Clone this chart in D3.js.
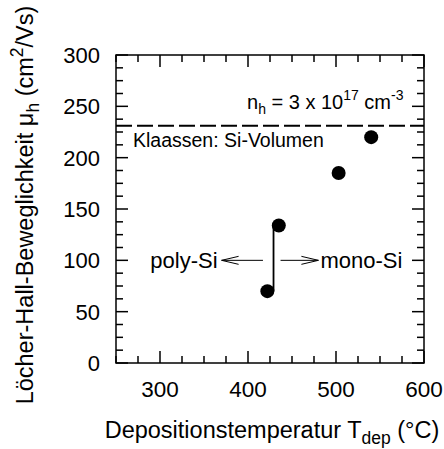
<!DOCTYPE html>
<html>
<head>
<meta charset="utf-8">
<script src="https://cdn.jsdelivr.net/npm/d3@7"></script>
<style>
  html, body { margin: 0; padding: 0; background: #fff; }
  text { font-family: "Liberation Sans", Arial, sans-serif; fill: #000; }
</style>
</head>
<body>
<div id="chart"></div>
<script>
// Hole mobility vs. deposition temperature
const depTemps = [422, 435, 503, 540];          // °C
const holeMobility = [70, 134, 185, 220];        // cm²/Vs
const bulkMobility = 231;                        // Klaassen Si-Volumen reference
const xTicks = [300, 400, 500, 600];
const yTicks = [0, 50, 100, 150, 200, 250, 300];
const jumpX = 429;                               // poly -> mono transition marker
const polyArrow = [417, 370];                    // x from, x to at y = 100
const monoArrow = [437, 480];
const arrowY = 100;

const width = 444, height = 449;
const m = { top: 55, right: 20, bottom: 86, left: 116 };
const innerW = width - m.left - m.right;
const innerH = height - m.top - m.bottom;

const svg = d3.select('#chart').append('svg').attr('width', width).attr('height', height);
const g = svg.append('g').attr('transform', `translate(${m.left},${m.top})`);

const x = d3.scaleLinear().domain([250, 600]).range([0, innerW]);
const y = d3.scaleLinear().domain([0, 300]).range([innerH, 0]);

// Frame ticks on all four sides, pointing inward
const xMinor = d3.range(250, 601, 25);
const yMinor = d3.range(0, 301, 12.5);
const majLen = 12, minLen = 7;
const isMajX = v => v % 100 === 0;
const isMajY = v => v % 50 === 0;

const ticks = g.append('g').attr('stroke', '#000').attr('stroke-width', 1.5);
xMinor.forEach(v => {
  const L = isMajX(v) ? majLen : minLen;
  ticks.append('line').attr('x1', x(v)).attr('x2', x(v)).attr('y1', innerH).attr('y2', innerH - L);
  ticks.append('line').attr('x1', x(v)).attr('x2', x(v)).attr('y1', 0).attr('y2', L);
});
yMinor.forEach(v => {
  const L = isMajY(v) ? majLen : minLen;
  ticks.append('line').attr('x1', 0).attr('x2', L).attr('y1', y(v)).attr('y2', y(v));
  ticks.append('line').attr('x1', innerW).attr('x2', innerW - L).attr('y1', y(v)).attr('y2', y(v));
});

g.append('rect').attr('width', innerW).attr('height', innerH)
  .attr('fill', 'none').attr('stroke', '#000').attr('stroke-width', 1.5);

// Tick labels
g.append('g').selectAll('text').data(xTicks).enter().append('text')
  .attr('x', d => x(d)).attr('y', innerH + 34)
  .attr('text-anchor', 'middle').style('font-size', '22.5px').text(d => d);

g.append('g').selectAll('text').data(yTicks).enter().append('text')
  .attr('x', -16).attr('y', d => y(d)).attr('dy', '0.36em')
  .attr('text-anchor', 'end').style('font-size', '22px').text(d => d);

// Reference line
g.append('line')
  .attr('x1', 0).attr('x2', innerW).attr('y1', y(bulkMobility)).attr('y2', y(bulkMobility))
  .attr('stroke', '#000').attr('stroke-width', 2).attr('stroke-dasharray', '16,5');

g.append('text').attr('x', 17).attr('y', y(bulkMobility) + 21)
  .style('font-size', '19.5px').text('Klaassen: Si-Volumen');

const nh = g.append('text').attr('x', 131).attr('y', y(bulkMobility) - 17).style('font-size', '20px');
nh.append('tspan').text('n');
nh.append('tspan').attr('dy', 5).style('font-size', '14px').text('h');
nh.append('tspan').attr('dy', -5).text(' = 3 x 10');
nh.append('tspan').attr('dy', -9).style('font-size', '14px').text('17');
nh.append('tspan').attr('dy', 9).text(' cm');
nh.append('tspan').attr('dy', -9).style('font-size', '14px').text('-3');

// Transition bar and arrows
g.append('line')
  .attr('x1', x(jumpX)).attr('x2', x(jumpX)).attr('y1', y(holeMobility[0])).attr('y2', y(holeMobility[1]))
  .attr('stroke', '#000').attr('stroke-width', 1.8);

function arrow(from, to) {
  const x0 = x(from), x1 = x(to), yy = y(arrowY);
  const dir = Math.sign(x1 - x0);
  g.append('line').attr('x1', x0).attr('x2', x1).attr('y1', yy).attr('y2', yy)
    .attr('stroke', '#000').attr('stroke-width', 1);
  g.append('path')
    .attr('d', `M${x1 - dir * 17},${yy - 4}L${x1},${yy}L${x1 - dir * 17},${yy + 4}`)
    .attr('fill', 'none').attr('stroke', '#000').attr('stroke-width', 1);
}
arrow(polyArrow[0], polyArrow[1]);
arrow(monoArrow[0], monoArrow[1]);

g.append('text').attr('x', x(polyArrow[1]) - 4).attr('y', y(arrowY)).attr('dy', '0.36em')
  .attr('text-anchor', 'end').style('font-size', '22px').text('poly-Si');
g.append('text').attr('x', x(monoArrow[1]) + 2).attr('y', y(arrowY)).attr('dy', '0.36em')
  .style('font-size', '22px').text('mono-Si');

// Data points
g.selectAll('circle.pt').data(depTemps).enter().append('circle')
  .attr('class', 'pt')
  .attr('cx', d => x(d)).attr('cy', (d, i) => y(holeMobility[i]))
  .attr('r', 7).attr('fill', '#000');

// Axis titles
const xl = svg.append('text').attr('x', 272).attr('y', 438)
  .attr('text-anchor', 'middle').style('font-size', '23.5px');
xl.append('tspan').text('Depositionstemperatur T');
xl.append('tspan').attr('dy', 6).style('font-size', '17.5px').text('dep');
xl.append('tspan').attr('dy', -6).text(' (°C)');

const yl = svg.append('text')
  .attr('transform', `translate(33,${m.top + innerH / 2 - 4}) rotate(-90)`)
  .attr('text-anchor', 'middle').style('font-size', '23.5px');
yl.append('tspan').text('Löcher-Hall-Beweglichkeit μ');
yl.append('tspan').attr('dy', 6).style('font-size', '17.5px').text('h');
yl.append('tspan').attr('dy', -6).text(' (cm');
yl.append('tspan').attr('dy', -10).style('font-size', '17.5px').text('2');
yl.append('tspan').attr('dy', 10).text('/Vs)');
</script>
</body>
</html>
